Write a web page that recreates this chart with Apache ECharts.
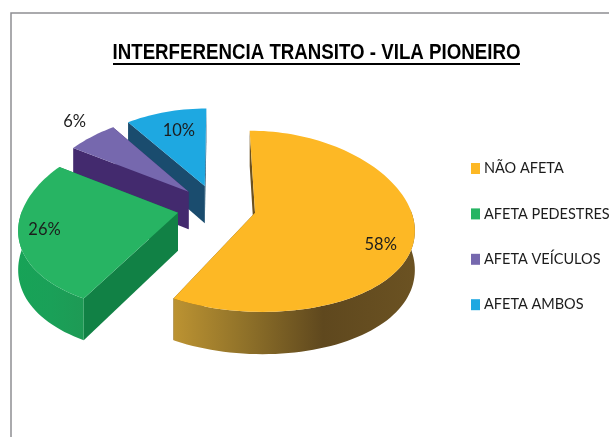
<!DOCTYPE html>
<html><head><meta charset="utf-8">
<style>html,body{margin:0;padding:0;background:#fff;overflow:hidden}#c{width:609px;height:437px}</style>
<script src="https://cdn.jsdelivr.net/npm/echarts@6/dist/echarts.min.js"></script>
</head><body><div id="c"></div>
<script>
var categories = ['NÃO AFETA','AFETA PEDESTRES','AFETA VEÍCULOS','AFETA AMBOS'];
var values = [58,26,6,10];
var titleText = 'INTERFERENCIA TRANSITO - VILA PIONEIRO';

var topColors = ['#FDB825','#27B463','#7668AE','#1EA8E1'];
var cutColors = ['#6B5120','#118145','#432A6E','#1A4C6E'];
var rimStops = [
  [[0,'#BC9332'],[0.3,'#8F7129'],[0.62,'#5F481E'],[1,'#6B5222']],
  [[0,'#17A357'],[0.5,'#1AA058'],[1,'#1E9A55']],
  [[0,'#432A6E'],[1,'#432A6E']],
  [[0,'#1A4C6E'],[1,'#1A4C6E']]
];
var labelRadius = [0.82,0.84,1.25,0.72];
var labelSpan = [0.55,0.52,0.58,0.55];
var drawOrder = [4,3,2,1];

var view = {cx:216.5, cy:207, rx:155, ry:88.7, kx:0.16, ky:0.095, explode:0.254, depth:38};
var total = values.reduce(function(a,b){return a+b;},0);
var rad = Math.PI/180;

function project(X,Y,down){
  var sx = 1/(1-view.kx*Y), sy = 1/(1-view.ky*Y);
  return [view.cx+X*view.rx*sx, view.cy+Y*view.ry*sy+(down?view.depth*sy:0)];
}
function sliceAngles(i){
  var a0=0; for(var j=0;j<i;j++){a0+=values[j]/total*360;}
  return [a0,a0+values[i]/total*360];
}
function renderSlice(params,api){
  var i=params.seriesIndex, v=api.value(0);
  var ang=sliceAngles(i), a0=ang[0], a1=ang[1], mid=(a0+a1)/2*rad;
  var ox=Math.sin(mid)*view.explode, oy=-Math.cos(mid)*view.explode;
  function rim(t,down){return project(ox+Math.sin(t*rad),oy-Math.cos(t*rad),down);}
  var apexTop=project(ox,oy,false), apexDown=project(ox,oy,true);
  var top=[apexTop], t, kids=[];
  for(t=a0;t<a1;t+=2){top.push(rim(t,false));}
  top.push(rim(a1,false));
  function cut(a){return {type:'polygon',silent:true,shape:{points:[apexTop,rim(a,false),rim(a,true),apexDown]},style:{fill:cutColors[i]}};}
  kids.push(cut(a1)); kids.push(cut(a0));
  var w0=Math.max(a0,88), w1=Math.min(a1,272);
  if(w1>w0){
    var up=[],dn=[];
    for(t=w0;t<w1;t+=2){up.push(rim(t,false));dn.unshift(rim(t,true));}
    up.push(rim(w1,false));dn.unshift(rim(w1,true));
    kids.push({type:'polygon',silent:true,shape:{points:up.concat(dn)},
      style:{fill:new echarts.graphic.LinearGradient(0,0,1,0,rimStops[i].map(function(s){return {offset:s[0],color:s[1]};}))}});
  }
  kids.push({type:'polygon',silent:true,shape:{points:top},style:{fill:topColors[i]}});
  var lt=(a0+(a1-a0)*labelSpan[i])*rad, lp=project(ox+labelRadius[i]*Math.sin(lt),oy-labelRadius[i]*Math.cos(lt),false);
  kids.push({type:'text',silent:true,z2:10,style:{x:lp[0],y:lp[1],text:v+'%',fill:'#1c1c1c',font:'16.5px Lato',align:'center',verticalAlign:'middle'}});
  return {type:'group',children:kids};
}
var chart=echarts.init(document.getElementById('c'),null,{renderer:'canvas'});
chart.setOption({
  animation:false,
  backgroundColor:'#fff',
  legend:{orient:'vertical',left:466,top:156,itemWidth:9,itemHeight:11,itemGap:30.4,icon:'rect',
    data:categories,selectedMode:false,
    textStyle:{fontFamily:'Lato',fontSize:14.5,color:'#1c1c1c',padding:[0,0,0,-1]}},
  graphic:[
    {type:'rect',silent:true,shape:{x:11,y:13,width:800,height:800},style:{fill:'none',stroke:'#8E8E93',lineWidth:1.5},z:-1},
    {type:'text',silent:true,x:316.5,y:53,scaleX:0.85,style:{x:0,y:0,text:titleText,align:'center',verticalAlign:'middle',fill:'#000',font:'bold 22px "Liberation Sans"'}},
    {type:'line',silent:true,shape:{x1:113,y1:64,x2:520,y2:64},style:{stroke:'#000',lineWidth:1.8}}
  ],
  series:categories.map(function(name,i){
    return {type:'custom',name:name,coordinateSystem:'none',z:drawOrder[i],clip:false,
      itemStyle:{color:topColors[i]},renderItem:renderSlice,data:[[values[i]]]};
  })
});
</script></body></html>
